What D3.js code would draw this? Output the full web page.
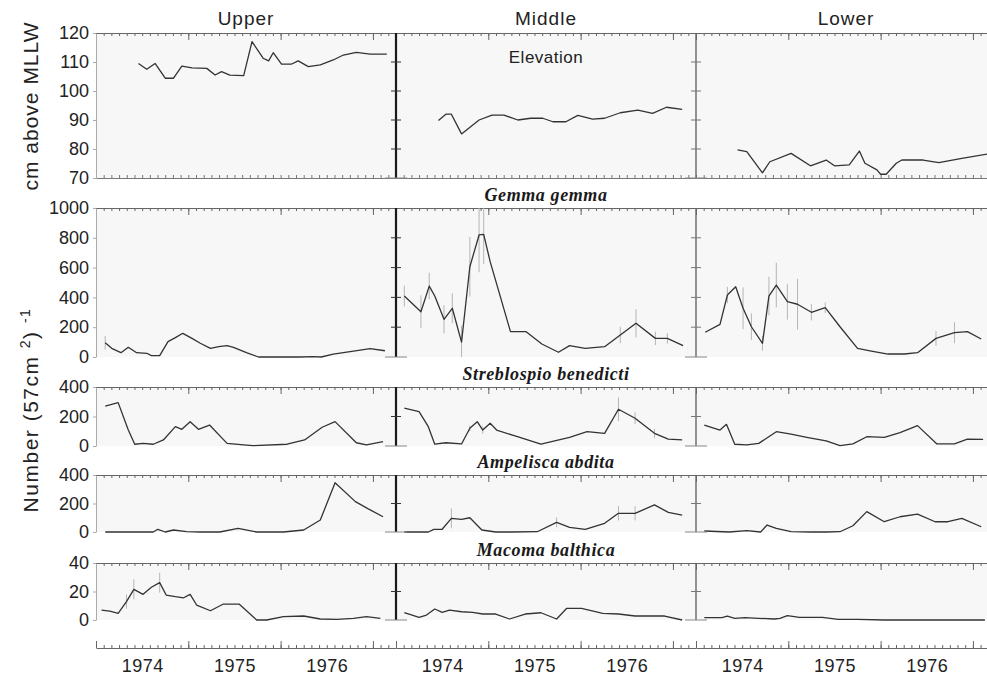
<!DOCTYPE html>
<html>
<head>
<meta charset="utf-8">
<script src="https://cdn.jsdelivr.net/npm/d3@7"></script>
<style>
    body { margin: 0; background: #fff; }
    svg { display: block; }
</style>
</head>
<body>
<svg id="chart"></svg>
<script>
let columns = ["Upper", "Middle", "Lower"];
let yearLabels = [1974, 1975, 1976];
let species = ["Gemma gemma", "Streblospio benedicti", "Ampelisca abdita", "Macoma balthica"];

let elevTicks = [70, 80, 90, 100, 110, 120];
let gemmaTicks = [0, 200, 400, 600, 800, 1000];
let strebTicks = [0, 200, 400];
let ampTicks = [0, 200, 400];
let macTicks = [0, 20, 40];

// [year, value, standard error]
let elevUpper = [[1974.46,109.5],[1974.55,107.5],[1974.64,109.5],[1974.75,104.4],[1974.84,104.4],[1974.93,108.6],[1975.04,108.0],[1975.20,107.8],[1975.29,105.5],[1975.36,106.7],[1975.45,105.5],[1975.60,105.3],[1975.69,117.0],[1975.81,111.3],[1975.87,110.4],[1975.92,113.2],[1976.01,109.3],[1976.12,109.3],[1976.19,110.4],[1976.30,108.4],[1976.43,109.0],[1976.57,110.7],[1976.68,112.4],[1976.82,113.3],[1976.97,112.7],[1977.15,112.7]];
let elevMiddle = [[1974.46,89.8],[1974.54,92.0],[1974.60,92.0],[1974.71,85.2],[1974.90,90.0],[1975.04,91.7],[1975.17,91.7],[1975.32,90.0],[1975.46,90.6],[1975.59,90.6],[1975.70,89.4],[1975.84,89.4],[1975.97,91.6],[1976.13,90.3],[1976.26,90.6],[1976.43,92.5],[1976.62,93.4],[1976.78,92.3],[1976.93,94.4],[1977.10,93.7]];
let elevLower = [[1974.45,79.7],[1974.55,79.1],[1974.72,71.8],[1974.80,75.6],[1975.03,78.5],[1975.24,74.2],[1975.41,76.2],[1975.50,74.2],[1975.66,74.5],[1975.77,79.3],[1975.83,75.1],[1975.96,72.8],[1976.00,71.3],[1976.06,71.3],[1976.17,75.1],[1976.23,76.2],[1976.46,76.2],[1976.63,75.3],[1976.88,76.8],[1977.16,78.3]];

let gemmaUpper = [[1974.10,96,45],[1974.17,58],[1974.27,29],[1974.35,65],[1974.44,29],[1974.55,25],[1974.60,9],[1974.69,9],[1974.78,103],[1974.86,130],[1974.94,159],[1975.04,125],[1975.13,92],[1975.24,58],[1975.33,69],[1975.42,76],[1975.49,65],[1975.63,29],[1975.76,0],[1975.85,0],[1975.96,0],[1976.21,0],[1976.35,2],[1976.44,0],[1976.57,20],[1976.79,40],[1976.97,56],[1977.13,42]];
let gemmaMiddle = [[1974.09,409,70],[1974.27,304,110],[1974.36,476,90],[1974.42,409],[1974.52,253,95],[1974.61,327,100],[1974.71,100,110],[1974.80,606,200],[1974.90,819,250],[1974.95,823,200],[1975.02,640],[1975.12,427],[1975.24,170],[1975.41,170],[1975.58,87],[1975.76,32],[1975.88,76],[1976.05,58],[1976.26,69],[1976.43,148,55],[1976.60,226,95],[1976.81,125,45],[1976.94,125,35],[1977.11,76]];
let gemmaLower = [[1974.10,166],[1974.26,219],[1974.34,416,55],[1974.43,472],[1974.51,327,140],[1974.60,203,90],[1974.72,92,50],[1974.79,409,130],[1974.87,483,150],[1974.99,371,120],[1975.10,354,170],[1975.25,300,55],[1975.40,331,35],[1975.56,203],[1975.75,58],[1975.90,40],[1976.08,20],[1976.26,20],[1976.40,29],[1976.60,125,50],[1976.80,163,70],[1976.94,170],[1977.09,121]];

let strebUpper = [[1974.10,271],[1974.24,294],[1974.35,108],[1974.42,12],[1974.51,18],[1974.62,12],[1974.73,41],[1974.86,131],[1974.93,113],[1975.02,165],[1975.11,113],[1975.23,142],[1975.42,18],[1975.60,7],[1975.70,2],[1976.07,12],[1976.26,41],[1976.45,127],[1976.59,165],[1976.82,22],[1976.93,7],[1977.11,29]];
let strebMiddle = [[1974.09,256],[1974.25,233],[1974.35,131],[1974.42,12],[1974.54,22],[1974.71,14],[1974.80,120,20],[1974.88,165],[1974.94,108,25],[1975.02,154],[1975.09,108],[1975.29,68],[1975.57,12],[1975.88,59],[1976.07,97],[1976.26,86],[1976.41,249,80],[1976.59,188,40],[1976.80,86,30],[1976.95,47],[1977.10,41]];
let strebLower = [[1974.09,142],[1974.26,108],[1974.33,147],[1974.42,12],[1974.55,7],[1974.68,18],[1974.87,97],[1975.03,81],[1975.20,59],[1975.41,34],[1975.56,2],[1975.70,14],[1975.85,63],[1976.04,59],[1976.21,90],[1976.40,138],[1976.61,14],[1976.80,14],[1976.94,47],[1977.11,45]];

let ampUpper = [[1974.10,0],[1974.40,0],[1974.62,0],[1974.67,19],[1974.75,0],[1974.84,14],[1974.98,2],[1975.13,0],[1975.34,0],[1975.54,26],[1975.74,0],[1976.03,0],[1976.25,14],[1976.43,84],[1976.59,346],[1976.81,213],[1976.95,162],[1977.11,107]];
let ampMiddle = [[1974.09,0],[1974.35,0],[1974.41,19],[1974.50,19],[1974.60,96,70],[1974.71,89],[1974.80,100],[1974.93,14],[1975.08,0],[1975.25,0],[1975.53,2],[1975.74,68,35],[1975.88,33],[1976.05,19],[1976.26,61],[1976.41,131,50],[1976.59,131,50],[1976.80,190],[1976.95,138],[1977.10,119]];
let ampLower = [[1974.09,7],[1974.36,0],[1974.55,9],[1974.70,0],[1974.77,49],[1974.87,26],[1975.03,2],[1975.24,0],[1975.41,0],[1975.56,2],[1975.70,44],[1975.85,143],[1976.04,72],[1976.21,107],[1976.40,126],[1976.59,72],[1976.73,72],[1976.88,96],[1977.09,37]];

let macUpper = [[1974.06,7.0],[1974.15,6.3],[1974.24,4.7],[1974.33,12.9,5],[1974.41,21.5,7],[1974.51,18.0],[1974.60,23.0],[1974.69,26.2,7],[1974.76,17.5],[1974.86,16.4],[1974.95,15.6],[1975.02,18.0],[1975.09,10.5],[1975.24,6.5],[1975.38,11.2],[1975.55,11.2],[1975.74,0],[1975.85,0],[1976.03,2.3],[1976.25,2.8],[1976.43,0.7],[1976.61,0.5],[1976.79,1.2],[1976.93,2.3],[1977.08,1.2]];
let macMiddle = [[1974.09,5.1],[1974.25,1.9],[1974.33,3.5],[1974.42,7.7],[1974.50,5.4],[1974.58,7.0],[1974.71,5.8],[1974.83,5.4],[1974.94,4.2],[1975.08,4.2],[1975.23,0.7],[1975.40,4.2],[1975.57,5.1],[1975.74,0.7],[1975.85,8.2],[1976.01,8.2],[1976.24,4.7],[1976.41,4.2],[1976.59,2.8],[1976.91,2.8],[1977.10,0]];
let macLower = [[1974.09,1.6],[1974.28,1.6],[1974.34,2.8],[1974.42,1.2],[1974.53,1.6],[1974.68,1.2],[1974.85,0.7],[1974.91,1.2],[1974.99,3.0],[1975.12,1.9],[1975.37,1.9],[1975.54,0.5],[1975.75,0.5],[1976.04,0],[1976.46,0],[1976.88,0],[1977.13,0]];

let W = 987, H = 677;
let colLeft = [96, 396, 696];
let colWidth = 300;
let xDomain = [1974, 1977.25];
let months = d3.range(0, 40).map(i => 1974 + i / 12);
let yearTicks = [1974, 1975, 1976, 1977];

let sans = "'Liberation Sans', Arial, sans-serif";
let serif = "'Liberation Serif', 'Times New Roman', serif";

let rows = [
    {top: 33,  bottom: 178, domain: [70, 120],  ticks: elevTicks,  series: [elevUpper, elevMiddle, elevLower]},
    {top: 208, bottom: 357, domain: [0, 1000],  ticks: gemmaTicks, series: [gemmaUpper, gemmaMiddle, gemmaLower]},
    {top: 387, bottom: 446, domain: [0, 400],   ticks: strebTicks, series: [strebUpper, strebMiddle, strebLower]},
    {top: 475, bottom: 532, domain: [0, 400],   ticks: ampTicks,   series: [ampUpper, ampMiddle, ampLower]},
    {top: 563, bottom: 620, domain: [0, 40],    ticks: macTicks,   series: [macUpper, macMiddle, macLower]}
];

let svg = d3.select('#chart')
            .attr('width', W)
            .attr('height', H)
            .style('font-family', sans);

let xScales = colLeft.map(L => d3.scaleLinear().domain(xDomain).range([L, L + colWidth]));

function styleAxis(g, color) {
    g.selectAll('path.domain').attr('stroke', color);
    g.selectAll('.tick line').attr('stroke', color);
}

rows.forEach(function(row, ri) {
    let y = d3.scaleLinear().domain(row.domain).range([row.bottom, row.top]);
    let yc = y.copy().clamp(true);

    columns.forEach(function(col, ci) {
        let L = colLeft[ci];
        let x = xScales[ci];

        // panel background
        svg.append('rect')
            .attr('x', L)
            .attr('y', row.top)
            .attr('width', colWidth)
            .attr('height', row.bottom - row.top)
            .attr('fill', '#f7f7f7');

        // top border with month ticks
        let top = svg.append('g')
                    .attr('transform', `translate(0,${row.top})`)
                    .call(d3.axisBottom(x).tickValues(months).tickSize(3).tickSizeOuter(0).tickFormat(''));
        styleAxis(top, '#666');
        let topYr = svg.append('g')
                    .attr('transform', `translate(0,${row.top})`)
                    .call(d3.axisBottom(x).tickValues(yearTicks).tickSize(7).tickSizeOuter(0).tickFormat(''));
        styleAxis(topYr, '#666');
        topYr.select('path.domain').remove();

        // elevation panel has a bottom border too
        if (ri == 0) {
            let bot = svg.append('g')
                        .attr('transform', `translate(0,${row.bottom})`)
                        .call(d3.axisTop(x).tickValues(months).tickSize(3).tickSizeOuter(0).tickFormat(''));
            styleAxis(bot, '#777');
        }

        // error bars
        svg.append('g')
            .selectAll('line')
            .data(row.series[ci].filter(d => d[2]))
            .enter().append('line')
                .attr('x1', d => x(d[0]))
                .attr('x2', d => x(d[0]))
                .attr('y1', d => yc(d[1] - d[2]))
                .attr('y2', d => yc(d[1] + d[2]))
                .attr('stroke', '#b5b5b5')
                .attr('stroke-width', 1);

        // the series
        let line = d3.line()
                    .x(d => x(d[0]))
                    .y(d => y(d[1]));

        svg.append('path')
            .datum(row.series[ci])
            .attr('d', line)
            .attr('fill', 'none')
            .attr('stroke', '#333')
            .attr('stroke-width', 1.3)
            .attr('stroke-linejoin', 'round');

        if (ci == 0) {
            // left axis with labels
            let ax = svg.append('g')
                        .attr('transform', `translate(${L},0)`)
                        .call(d3.axisLeft(y).tickValues(row.ticks).tickSize(3).tickSizeOuter(0).tickPadding(4).tickFormat(d3.format('d')));
            styleAxis(ax, '#aaa');
            ax.selectAll('text')
                .style('font-family', sans)
                .style('font-size', '18px')
                .attr('fill', '#222');
        } else {
            // divider between columns with crosses at the ticks
            let dark = ci == 1;
            let div = svg.append('g');
            div.append('line')
                .attr('x1', L).attr('x2', L)
                .attr('y1', row.top).attr('y2', row.bottom)
                .attr('stroke', dark ? '#1a1a1a' : '#666')
                .attr('stroke-width', dark ? 2.2 : 1.4);
            div.selectAll('line.cross')
                .data(row.ticks.slice(1, -1))
                .enter().append('line')
                    .attr('class', 'cross')
                    .attr('x1', L - 5).attr('x2', L + 5)
                    .attr('y1', d => y(d)).attr('y2', d => y(d))
                    .attr('stroke', dark ? '#333' : '#777')
                    .attr('stroke-width', 1);
            div.append('line')
                .attr('x1', L - 11).attr('x2', L + 11)
                .attr('y1', row.bottom).attr('y2', row.bottom)
                .attr('stroke', '#888')
                .attr('stroke-width', 1);
        }
    });

    // species label centred over the middle column
    if (ri > 0) {
        svg.append('text')
            .attr('x', colLeft[1] + colWidth / 2)
            .attr('y', row.top - 7)
            .text(species[ri - 1])
            .style('font-family', serif)
            .style('font-style', 'italic')
            .style('font-weight', 'bold')
            .style('font-size', '18px')
            .style('letter-spacing', '0.6px')
            .style('text-anchor', 'middle')
            .attr('fill', '#1a1a1a');
    }
});

// Elevation label
svg.append('text')
    .attr('x', colLeft[1] + colWidth / 2)
    .attr('y', 63)
    .text('Elevation')
    .style('font-size', '17px')
    .style('letter-spacing', '0.5px')
    .style('text-anchor', 'middle')
    .attr('fill', '#222');

// Column titles
svg.selectAll('text.coltitle')
    .data(columns).enter()
    .append('text')
        .attr('class', 'coltitle')
        .attr('x', (d, i) => colLeft[i] + colWidth / 2)
        .attr('y', 25)
        .text(d => d)
        .style('font-size', '19px')
        .style('letter-spacing', '1px')
        .style('text-anchor', 'middle')
        .attr('fill', '#222');

// Bottom time axis
let axisY = 648;
xScales.forEach(function(x) {
    let g = svg.append('g')
                .attr('transform', `translate(0,${axisY})`)
                .call(d3.axisTop(x).tickValues(months).tickSize(3).tickSizeOuter(0).tickFormat(''));
    styleAxis(g, '#666');
    let gy = svg.append('g')
                .attr('transform', `translate(0,${axisY})`)
                .call(d3.axisTop(x).tickValues(yearTicks).tickSize(7).tickSizeOuter(0).tickFormat(''));
    styleAxis(gy, '#666');
    gy.select('path.domain').remove();

    let gl = svg.append('g')
                .attr('transform', `translate(0,${axisY})`)
                .call(d3.axisBottom(x).tickValues(yearLabels.map(d => d + 0.5)).tickSize(0).tickPadding(11).tickFormat((d, i) => yearLabels[i]));
    gl.select('path.domain').remove();
    gl.selectAll('text')
        .style('font-family', sans)
        .style('font-size', '18px')
        .style('letter-spacing', '0.5px')
        .attr('fill', '#222');
});

// Y axis titles
svg.append('text')
    .attr('transform', 'translate(38,106) rotate(-90)')
    .text('cm above MLLW')
    .style('font-size', '21px')
    .style('letter-spacing', '1px')
    .style('text-anchor', 'middle')
    .attr('fill', '#222');

let numTitle = svg.append('text')
    .attr('transform', 'translate(38,410) rotate(-90)')
    .style('font-size', '21px')
    .style('letter-spacing', '1.5px')
    .style('text-anchor', 'middle')
    .attr('fill', '#222');
numTitle.append('tspan').text('Number (57cm ');
numTitle.append('tspan').text('2').attr('dy', -8).style('font-size', '14px');
numTitle.append('tspan').text(') ').attr('dy', 8);
numTitle.append('tspan').text('-1').attr('dy', -8).style('font-size', '14px');
</script>
</body>
</html>
